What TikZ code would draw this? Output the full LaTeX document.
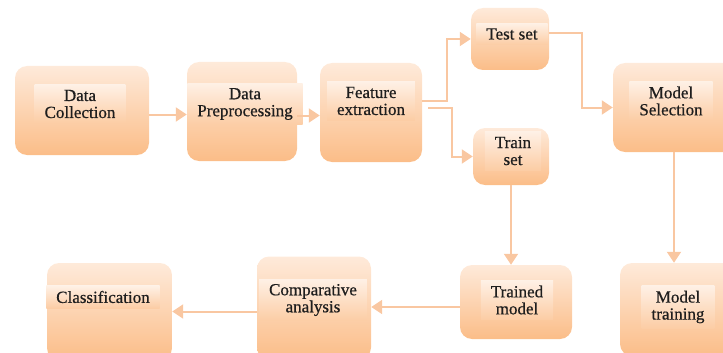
\documentclass[tikz,border=0pt]{standalone}
\usepackage{fontspec}
\setmainfont{Liberation Serif}[FakeBold=0.6]
\usetikzlibrary{arrows.meta}
\definecolor{BPeachTop}{HTML}{FEEADA}
\definecolor{BPeachBot}{HTML}{FBBD88}
\definecolor{LApricot}{HTML}{F9C7A1}
\definecolor{TInk}{HTML}{1E1E1E}

\begin{document}
\begin{tikzpicture}[x=1pt,y=-1pt,
    stage/.style={rounded corners=12pt,top color=BPeachTop,bottom color=BPeachBot,inner sep=0pt},
    band/.style={top color=white!30!BPeachTop,bottom color=BPeachBot!65!BPeachTop,
        inner xsep=10pt,inner ysep=5pt,align=center,text=TInk,
        font=\fontsize{17}{17}\selectfont},
    flow/.style={LApricot,line width=2pt,-{Triangle[length=11pt,width=14pt]}}]
        \useasboundingbox (0,0) rectangle (723,353);
        \clip (0,0) rectangle (723,353);

        % boxes: name/x/y/width/height
        \foreach \n/\x/\y/\w/\h in {dc/82/110.5/134/89, dp/242/111.5/110/99,
            fe/371/112.5/102/99, test/510/39/78/62, train/511/156.5/76/57,
            ms/676/107.5/126/89, trained/516/302/112/74, mt/680/309.5/120/93,
            ca/314/308/114/103, cl/109.5/311.5/125/97}
        {
            \node[stage,minimum width=\w pt,minimum height=\h pt] (\n) at (\x,\y) {};
        }

        % labels
        \foreach \n/\x/\y/\t in {dc/80/104/{Data\\Collection}, dp/245/104/{Data\\Preprocessing},
            fe/371/101/{Feature\\extraction}, test/512/34/{Test set}, train/513/151/{Train\\set},
            ms/671/101/{Model\\Selection}, trained/517/300/{Trained\\model},
            mt/678/307/{Model\\training}, ca/313/300/{Comparative\\analysis},
            cl/103/297/{Classification}}
        {
            \node[band] (\n-t) at (\x,\y) {\t};
        }

        \draw[flow] ([yshift=-4pt]dc.east) -- ([yshift=-4pt]dc.east -| dp.west);
        \draw[flow] ([yshift=-4pt]dp.east) -- ([yshift=-4pt]dp.east -| fe.west);
        \draw[flow] ([yshift=12pt]fe.east) -- ++(25,0) |- (test.west);
        \draw[flow] ([xshift=6pt,yshift=5pt]fe.east) -- ++(24,0) |- (train.west);
        \draw[flow] ([yshift=6pt]test.east) -- ++(33,0) |- (ms.west);
        \draw[flow] (train.south) -- (train.south |- trained.north);
        \draw[flow] ([xshift=-2pt]ms.south) -- ([xshift=-2pt]ms.south |- mt.north);
        \draw[flow] ([yshift=-5pt]trained.west) -- ([yshift=-5pt]trained.west -| ca.east);
        \draw[flow] (ca.west |- cl.east) -- (cl.east);
\end{tikzpicture}
\end{document}
